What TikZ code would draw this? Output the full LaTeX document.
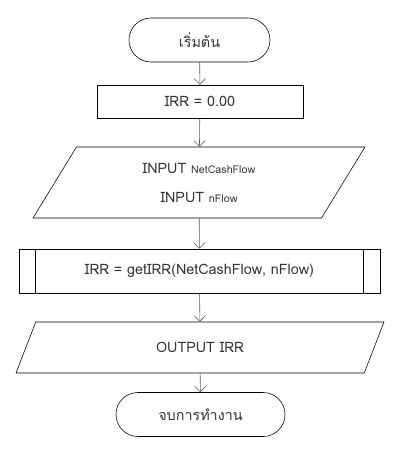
\documentclass[tikz,border=0pt]{standalone}
\usepackage{fontspec}
\newfontfamily\thaifont[Script=Thai]{Loma}
\usetikzlibrary{shapes.geometric,shapes.misc,arrows.meta}

\tikzset{
  terminal/.style={rounded rectangle, draw, minimum height=1.1cm, inner sep=0pt},
  process/.style={rectangle, draw, minimum height=0.825cm, inner sep=0pt},
  io/.style={trapezium, trapezium left angle=63, trapezium right angle=117,
    trapezium stretches=true, draw, inner sep=0pt},
  subproc/.style={rectangle, draw, minimum width=9.025cm, minimum height=1.1cm, inner sep=0pt},
  flow/.style={draw=black!65, -{Straight Barb[length=4pt,width=8pt]}}
}

\begin{document}
\begin{tikzpicture}[x=0.025cm, y=-0.025cm, every node/.style={font=\thaifont\fontsize{10.2}{12}\selectfont, text=black!80}]
  \useasboundingbox (0,0) rectangle (402,453);
  \path (199.5,40) node[terminal, minimum width=3.525cm] (start) {เริ่มต้น}
    (200,101.5) node[process, minimum width=5.15cm] (init) {IRR = 0.00}
    (199,182.5) node[io, minimum width=8.3cm, minimum height=1.775cm, align=center,
      font=\thaifont\fontsize{10.2}{20.6}\selectfont] (input)
      {INPUT {\fontsize{7.6}{10}\selectfont NetCashFlow}\\INPUT {\fontsize{7.6}{10}\selectfont nFlow}}
    (199.5,271) node[subproc] (calc) {IRR = getIRR(NetCashFlow, nFlow)}
    (200,347.5) node[io, minimum width=9.25cm, minimum height=1.275cm] (output) {OUTPUT IRR}
    (200.5,414.5) node[terminal, minimum width=4.225cm] (stop) {จบการทำงาน};
  % predefined process bars
  \draw ([xshift=0.425cm]calc.north west) -- ([xshift=0.425cm]calc.south west);
  \draw ([xshift=-0.425cm]calc.north east) -- ([xshift=-0.425cm]calc.south east);
  \draw[flow] (start) -- (init);
  \draw[flow] (init) -- (input);
  \draw[flow] (input) -- (calc);
  \draw[flow] (calc) -- (output);
  \draw[flow] (output) -- (stop);
\end{tikzpicture}
\end{document}
